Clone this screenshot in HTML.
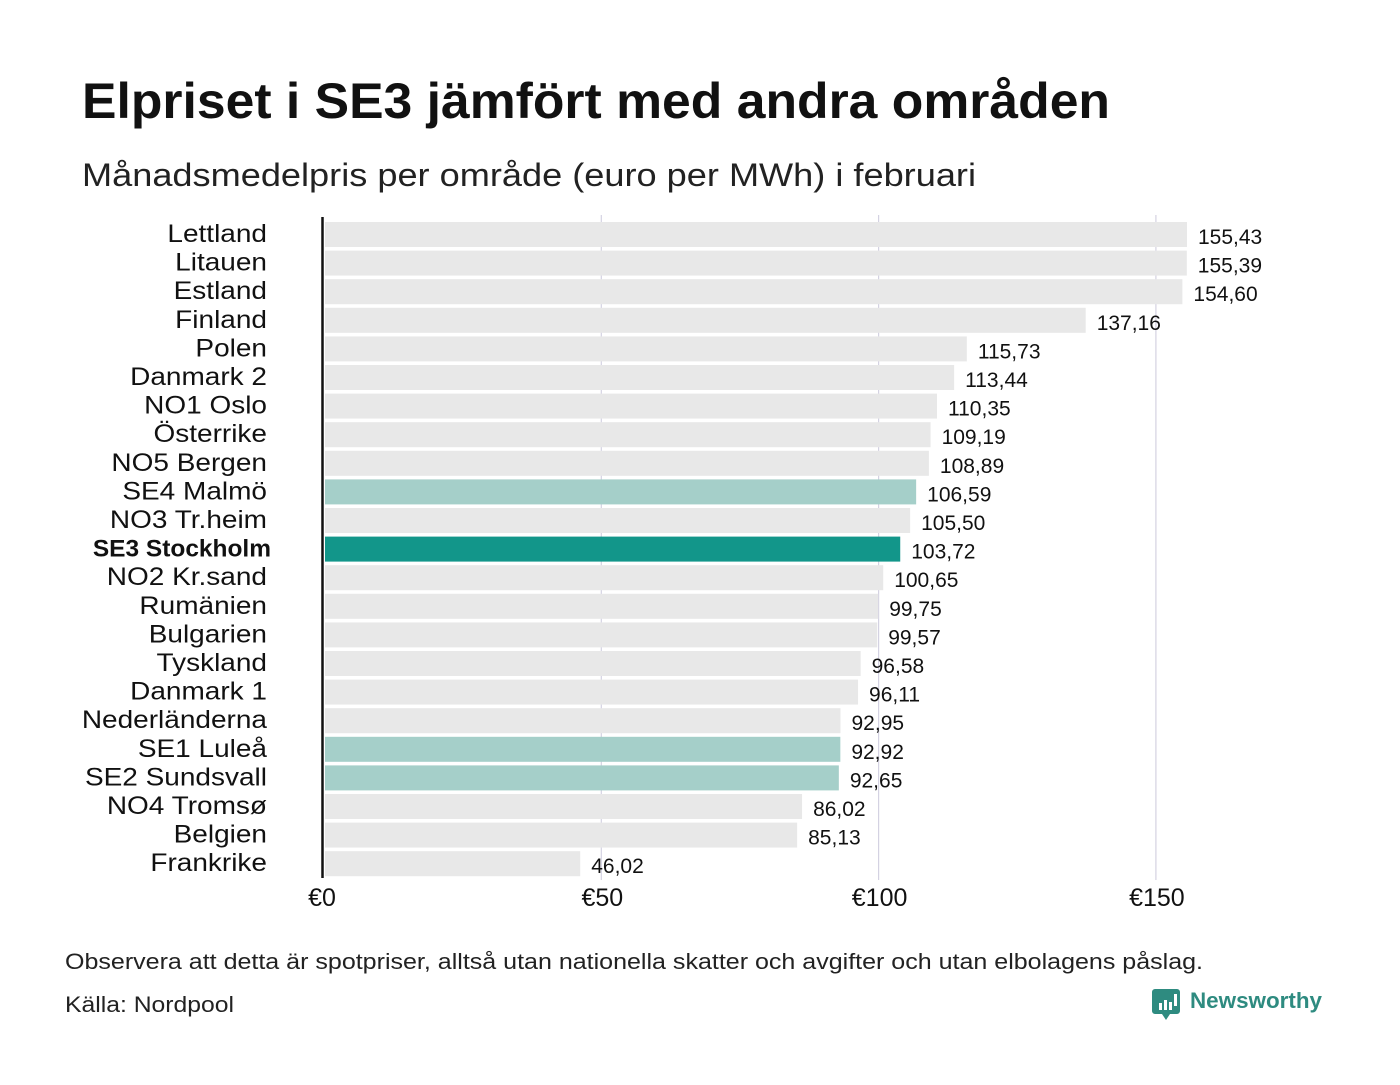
<!DOCTYPE html>
<html><head><meta charset="utf-8"><style>
body{margin:0;background:#fff;width:1400px;height:1080px;overflow:hidden;font-family:"Liberation Sans","DejaVu Sans",sans-serif}
</style></head><body>
<svg width="1400" height="1080" xmlns="http://www.w3.org/2000/svg" id="chart">
<text x="82" y="118" font-size="50" font-weight="bold" fill="#111" textLength="1028" lengthAdjust="spacingAndGlyphs">Elpriset i SE3 jämfört med andra områden</text>
<text x="82" y="186" font-size="32" fill="#222" textLength="894" lengthAdjust="spacingAndGlyphs">Månadsmedelpris per område (euro per MWh) i februari</text>
<g id="grid"></g>
<g id="bars"></g>
<line x1="322.5" y1="217" x2="322.5" y2="878" stroke="#111" stroke-width="2.5"/>
<g id="xt"></g>
<text x="65" y="969" font-size="22" fill="#222" textLength="1138" lengthAdjust="spacingAndGlyphs">Observera att detta är spotpriser, alltså utan nationella skatter och avgifter och utan elbolagens påslag.</text>
<text x="65" y="1012" font-size="22" fill="#222" textLength="169" lengthAdjust="spacingAndGlyphs">Källa: Nordpool</text>
<g>
<path d="M1155 989 h22 a3 3 0 0 1 3 3 v19 a3 3 0 0 1 -3 3 h-7 l-4 6 l-4 -6 h-7 a3 3 0 0 1 -3 -3 v-19 a3 3 0 0 1 3 -3z" fill="#2e8b80"/>
<rect x="1159" y="1003" width="3" height="7" fill="#fff"/><rect x="1164" y="1000" width="3" height="10" fill="#fff"/><rect x="1169" y="1002" width="3" height="8" fill="#fff"/><rect x="1174" y="994" width="3" height="12" fill="#fff"/>
<text x="1190" y="1008" font-size="22" font-weight="bold" fill="#2e8b80" textLength="132" lengthAdjust="spacingAndGlyphs">Newsworthy</text>
</g>
</svg>
<script>
const categories=["Lettland","Litauen","Estland","Finland","Polen","Danmark  2","NO1 Oslo","Österrike","NO5 Bergen","SE4  Malmö","NO3 Tr.heim","SE3 Stockholm","NO2 Kr.sand","Rumänien","Bulgarien","Tyskland","Danmark  1","Nederländerna","SE1  Luleå","SE2  Sundsvall","NO4 Tromsø","Belgien","Frankrike"];
const values=[155.43,155.39,154.60,137.16,115.73,113.44,110.35,109.19,108.89,106.59,105.50,103.72,100.65,99.75,99.57,96.58,96.11,92.95,92.92,92.65,86.02,85.13,46.02];
const highlight=["SE4  Malmö","SE1  Luleå","SE2  Sundsvall"];
const mainArea="SE3 Stockholm";
const ticks=[0,50,100,150];
const tickLabels=["€0","€50","€100","€150"];
const NS="http://www.w3.org/2000/svg";
const x=v=>325+v*5.546;
const y=i=>222+i*28.6;
const bh=25;
function mk(t,a,p){const e=document.createElementNS(NS,t);for(const k in a)e.setAttribute(k,a[k]);p.appendChild(e);return e;}
const grid=document.getElementById('grid'),bars=document.getElementById('bars'),xt=document.getElementById('xt');
ticks.forEach((t,i)=>{
 if(t>0){const l=mk('line',{x1:x(t)-1,x2:x(t)-1,y1:215,y2:880,stroke:'#d4d2e2','stroke-width':1.2},grid);
 
 }
 const tx=mk('text',{x:x(t)-(t==0?3:0),y:906,'font-size':25,'text-anchor':'middle',fill:'#111'},xt);tx.textContent=tickLabels[i];
 
 
});
categories.forEach((c,i)=>{
 const col=c===mainArea?'#12968a':(highlight.includes(c)?'#a5cfc9':'#e8e8e8');
 const r=mk('rect',{x:x(0),y:y(i),width:x(values[i])-x(0),height:bh,fill:col},bars);
 
 
 const ax=c===mainArea?271:267;
 const lb=mk('text',{x:ax,y:y(i)+20,'font-size':c===mainArea?24:25,'font-weight':c===mainArea?'bold':'normal','text-anchor':'end',fill:'#111','xml:space':'preserve',transform:`translate(${ax},0) scale(${c===mainArea?1.02:1.12},1) translate(${-ax},0)`},bars);
 lb.textContent=c;
 
 
 const vl=mk('text',{x:x(values[i])+11,y:y(i)+22,'font-size':21,fill:'#111'},bars);
 vl.textContent=values[i].toFixed(2).replace('.',',');
 
 
});
</script>
</body></html>
